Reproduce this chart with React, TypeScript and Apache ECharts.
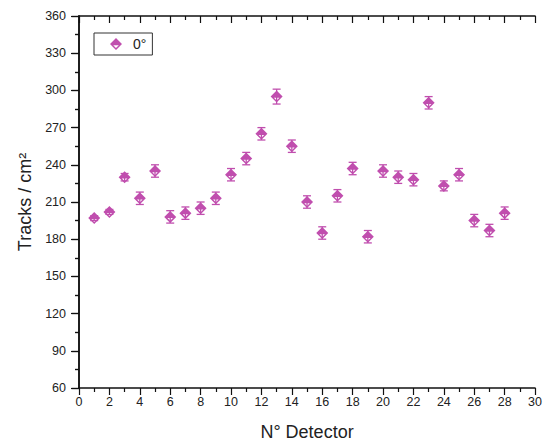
import React, { useEffect, useRef } from "react";
import * as echarts from "echarts";

const detectors = [1, 2, 3, 4, 5, 6, 7, 8, 9, 10, 11, 12, 13, 14, 15, 16, 17, 18, 19, 20, 21, 22, 23, 24, 25, 26, 27, 28];
const tracks = [197, 202, 230, 213, 235, 198, 201, 205, 213, 232, 245, 265, 295, 255, 210, 185, 215, 237, 182, 235, 230, 228, 290, 223, 232, 195, 187, 201];
const errors = [2, 2, 3, 5, 5, 5, 5, 5, 5, 5, 5, 5, 6, 5, 5, 5, 5, 5, 5, 5, 5, 5, 5, 4, 5, 5, 5, 5];
const seriesName = "0°";

const COLOR = "#c04eae";
const SYMBOL = "path://M50 0 L100 50 L50 100 L0 50 Z M27 60 L50 83 L73 60 Z";

export default function App() {
  const ref = useRef<HTMLDivElement>(null);
  useEffect(() => {
    if (!ref.current) return;
    const chart = echarts.init(ref.current, undefined, { renderer: "svg" });
    const pts = detectors.map((d, i) => [d, tracks[i]]);
    const errData = detectors.map((d, i) => [d, tracks[i] - errors[i], tracks[i] + errors[i]]);
    const axisLine = { show: true, lineStyle: { color: "#111", width: 1.5 } };
    const tickStyle = { color: "#111", width: 1.2 };
    const labelStyle = { color: "#222", fontSize: 12.5, fontFamily: "Liberation Sans, Arial, sans-serif" };
    chart.setOption({
      animation: false,
      backgroundColor: "#fff",
      grid: { left: 79, right: 8, top: 16, bottom: 58, containLabel: false },
      legend: {
        left: 94,
        top: 33,
        data: [seriesName],
        borderColor: "#333",
        borderWidth: 1,
        padding: [4, 6, 4, 16],
        itemWidth: 12,
        itemHeight: 12,
        itemGap: 4,
        textStyle: { ...labelStyle, fontSize: 14, padding: [0, 0, 0, 6] },
      },
      xAxis: [
        {
          type: "value",
          min: 0,
          max: 30,
          interval: 2,
          position: "bottom",
          name: "N° Detector",
          nameLocation: "middle",
          nameGap: 35,
          nameTextStyle: { ...labelStyle, fontSize: 18 },
          axisLine,
          axisTick: { show: true, inside: false, length: 7, lineStyle: tickStyle },
          minorTick: { show: true, splitNumber: 2, length: 4, lineStyle: tickStyle },
          axisLabel: { ...labelStyle, margin: 7 },
          splitLine: { show: false },
        },
        {
          type: "value",
          min: 0,
          max: 30,
          interval: 2,
          position: "top",
          axisLine,
          axisTick: { show: true, inside: true, length: 7, lineStyle: tickStyle },
          minorTick: { show: true, splitNumber: 2, length: 4, lineStyle: tickStyle },
          axisLabel: { show: false },
          splitLine: { show: false },
        },
      ],
      yAxis: [
        {
          type: "value",
          min: 60,
          max: 360,
          interval: 30,
          position: "left",
          name: "Tracks / cm²",
          nameLocation: "middle",
          nameGap: 44,
          nameTextStyle: { ...labelStyle, fontSize: 18 },
          axisLine,
          axisTick: { show: true, inside: false, length: 8, lineStyle: tickStyle },
          minorTick: { show: true, splitNumber: 2, length: 4, lineStyle: tickStyle },
          axisLabel: { ...labelStyle, margin: 13 },
          splitLine: { show: false },
        },
        {
          type: "value",
          min: 60,
          max: 360,
          interval: 30,
          position: "right",
          axisLine,
          axisTick: { show: true, inside: true, length: 7, lineStyle: tickStyle },
          minorTick: { show: true, splitNumber: 2, length: 4, lineStyle: tickStyle },
          axisLabel: { show: false },
          splitLine: { show: false },
        },
      ],
      series: [
        {
          type: "custom",
          name: "err",
          xAxisIndex: 0,
          yAxisIndex: 0,
          z: 1,
          silent: true,
          data: errData,
          renderItem: (params: any, api: any) => {
            const x = api.value(0);
            const lo = api.coord([x, api.value(1)]);
            const hi = api.coord([x, api.value(2)]);
            const hw = 4;
            const style = { stroke: COLOR, lineWidth: 1.3 };
            return {
              type: "group",
              children: [
                { type: "line", shape: { x1: lo[0], y1: lo[1], x2: hi[0], y2: hi[1] }, style },
                { type: "line", shape: { x1: lo[0] - hw, y1: lo[1], x2: lo[0] + hw, y2: lo[1] }, style },
                { type: "line", shape: { x1: hi[0] - hw, y1: hi[1], x2: hi[0] + hw, y2: hi[1] }, style },
              ],
            };
          },
        },
        {
          type: "scatter",
          name: seriesName,
          xAxisIndex: 0,
          yAxisIndex: 0,
          z: 3,
          symbol: SYMBOL,
          symbolSize: 12,
          itemStyle: { color: COLOR, opacity: 1 },
          data: pts,
        },
      ],
    });
    return () => chart.dispose();
  }, []);
  return <div ref={ref} style={{ width: 545, height: 446, position: "absolute", left: 0, top: 0 }} />;
}
